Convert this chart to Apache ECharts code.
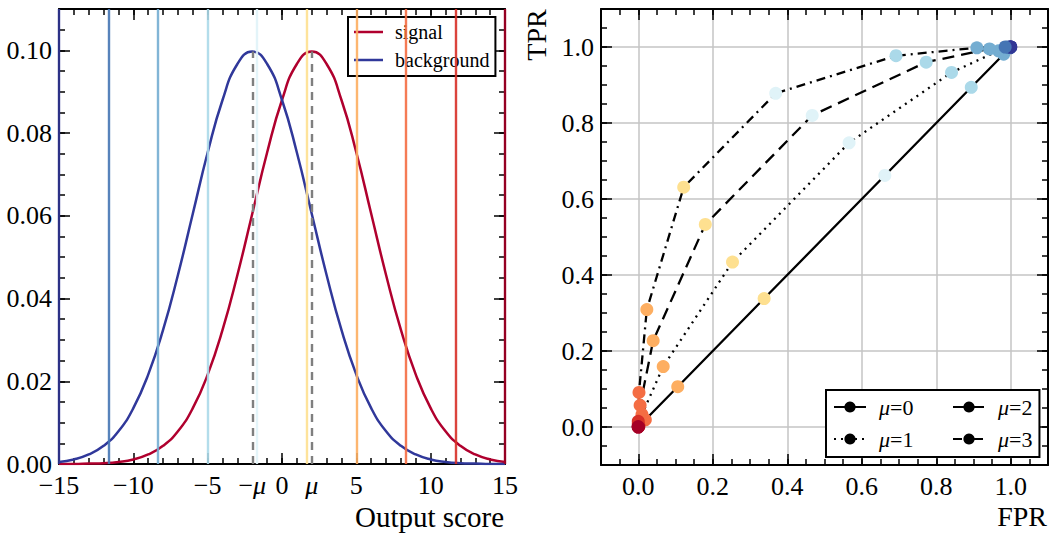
<!DOCTYPE html>
<html>
<head>
<meta charset="utf-8">
<script src="https://cdn.jsdelivr.net/npm/echarts@6.0.0/dist/echarts.min.js"></script>
<style>
  html, body { margin: 0; padding: 0; background: #fff; }
  #chart { width: 1058px; height: 536px; }
</style>
</head>
<body>
<div id="chart"></div>
<script>
// data

// left panel: output score distributions
var scoreX = [-15, -14, -13, -12, -11, -10, -9, -8, -7, -6, -5, -4, -3, -2, -1, 0,
              1, 2, 3, 4, 5, 6, 7, 8, 9, 10, 11, 12, 13, 14, 15];
var signalPdf = [0.0000, 0.0000, 0.0001, 0.0002, 0.0005, 0.0011, 0.0023, 0.0044, 0.0079, 0.0135,
                 0.0216, 0.0324, 0.0457, 0.0605, 0.0753, 0.0880, 0.0967, 0.0997, 0.0967, 0.0880,
                 0.0753, 0.0605, 0.0457, 0.0324, 0.0216, 0.0135, 0.0079, 0.0044, 0.0023, 0.0011, 0.0005];
var backgroundPdf = [0.0005, 0.0011, 0.0023, 0.0044, 0.0079, 0.0135, 0.0216, 0.0324, 0.0457, 0.0605,
                     0.0753, 0.0880, 0.0967, 0.0997, 0.0967, 0.0880, 0.0753, 0.0605, 0.0457, 0.0324,
                     0.0216, 0.0135, 0.0079, 0.0044, 0.0023, 0.0011, 0.0005, 0.0002, 0.0001, 0.0000, 0.0000];

// cut values and their colours
var thresholds = [-15, -11.67, -8.33, -5, -1.67, 1.67, 5, 8.33, 11.67, 15];
var thresholdColors = ['#313695', '#4575b4', '#74add1', '#abd9e9', '#e0f3f8',
                       '#fee090', '#fdae61', '#f46d43', '#d73027', '#a50026'];

// dashed markers at -mu and mu
var muMarks = [-2, 2];
var muPeaks = [0.0997, 0.0997];

// tick labels
var scoreTicks = [-15, -10, -5, -2, 0, 2, 5, 10, 15];
var pdfTicks = [0, 0.02, 0.04, 0.06, 0.08, 0.10];
var rocTicks = [0, 0.2, 0.4, 0.6, 0.8, 1.0];

// right panel: ROC points, one per cut value
var rocNames = ['μ=0', 'μ=1', 'μ=2', 'μ=3'];
var fprMu0 = [1.000, 0.998, 0.981, 0.894, 0.662, 0.338, 0.106, 0.019, 0.002, 0.000];
var tprMu0 = [1.000, 0.998, 0.981, 0.894, 0.662, 0.338, 0.106, 0.019, 0.002, 0.000];
var fprMu1 = [1.000, 0.996, 0.967, 0.841, 0.566, 0.253, 0.067, 0.010, 0.001, 0.000];
var tprMu1 = [1.000, 0.999, 0.990, 0.933, 0.748, 0.434, 0.159, 0.033, 0.004, 0.000];
var fprMu2 = [0.999, 0.992, 0.943, 0.773, 0.467, 0.180, 0.040, 0.005, 0.000, 0.000];
var tprMu2 = [1.000, 1.000, 0.995, 0.960, 0.820, 0.533, 0.227, 0.057, 0.008, 0.001];
var fprMu3 = [0.999, 0.985, 0.909, 0.692, 0.369, 0.122, 0.023, 0.002, 0.000, 0.000];
var tprMu3 = [1.000, 1.000, 0.998, 0.977, 0.878, 0.631, 0.309, 0.091, 0.015, 0.001];

var rocFpr = [fprMu0, fprMu1, fprMu2, fprMu3];
var rocTpr = [tprMu0, tprMu1, tprMu2, tprMu3];
var rocDash = ['solid', [2, 5], [12, 7], [9, 5, 2, 5]];

var FONT = '"Liberation Serif", "DejaVu Serif", serif';
var TICK_SIZE = 26;

function scoreLabel(v) {
    if (v === -2) return '{n|−}{i|μ}';
    if (v === 2) return '{i|μ}';
    return '{n|' + (v < 0 ? '−' + Math.abs(v) : String(v)) + '}';
}

var labelRich = {
    n: { fontFamily: FONT, fontSize: TICK_SIZE, color: '#000' },
    i: { fontStyle: 'italic', fontFamily: FONT, fontSize: TICK_SIZE, color: '#000' }
};

// builds the 4 axes of one side pair: main + minor ticks, low side + high side
function axisSet(grid, dim, min, max, minorStep, major) {
    var low = dim === 'x' ? 'bottom' : 'left';
    var high = dim === 'x' ? 'top' : 'right';
    var out = [];
    [low, high].forEach(function (pos) {
        out.push({
            type: 'value', gridIndex: grid, position: pos, min: min, max: max,
            interval: major.interval,
            axisLine: { show: true, onZero: false, lineStyle: { color: '#000', width: 2 } },
            axisTick: { show: true, inside: true, length: 11, customValues: major.tickValues,
                        lineStyle: { color: '#000', width: 1.5 } },
            axisLabel: { show: pos === low, customValues: major.labelValues, formatter: major.formatter,
                         color: '#000', fontFamily: FONT, fontSize: TICK_SIZE,
                         margin: dim === 'x' ? 8 : 7, rich: labelRich },
            splitLine: { show: !!major.split && pos === low, lineStyle: { color: '#c4c4c4', width: 1.5 } },
            minorTick: { show: false }
        });
        out.push({
            type: 'value', gridIndex: grid, position: pos, min: min, max: max,
            interval: minorStep,
            axisLine: { show: false, onZero: false },
            axisTick: { show: true, inside: true, length: 6, lineStyle: { color: '#000', width: 1.5 } },
            axisLabel: { show: false },
            splitLine: { show: false }
        });
    });
    return out;
}

var xAxes = axisSet(0, 'x', -15, 15, 1, {
    interval: 5, labelValues: scoreTicks, formatter: scoreLabel
}).concat(axisSet(1, 'x', -0.1, 1.1, 0.05, {
    tickValues: rocTicks, labelValues: rocTicks, split: true,
    formatter: function (v) { return '{n|' + v.toFixed(1) + '}'; }
}));

var yAxes = axisSet(0, 'y', 0, 0.11, 0.005, {
    tickValues: pdfTicks, labelValues: pdfTicks,
    formatter: function (v) { return '{n|' + v.toFixed(2) + '}'; }
}).concat(axisSet(1, 'y', -0.1, 1.1, 0.05, {
    tickValues: rocTicks, labelValues: rocTicks, split: true,
    formatter: function (v) { return '{n|' + v.toFixed(1) + '}'; }
}));

var series = [];

// vertical cut lines
series.push({
    type: 'line', xAxisIndex: 0, yAxisIndex: 0, data: [], z: 1, silent: true,
    markLine: {
        silent: true, symbol: ['none', 'none'], label: { show: false }, animation: false,
        data: thresholds.map(function (t, i) {
            return { xAxis: t, lineStyle: { color: thresholdColors[i], width: 2.4, type: 'solid', opacity: 0.9 } };
        })
    }
});

series.push({
    name: 'signal', type: 'line', xAxisIndex: 0, yAxisIndex: 0, z: 3,
    data: scoreX.map(function (x, i) { return [x, signalPdf[i]]; }),
    symbol: 'none', smooth: true,
    lineStyle: { color: '#b0002e', width: 2.5 }, itemStyle: { color: '#b0002e' }
});
series.push({
    name: 'background', type: 'line', xAxisIndex: 0, yAxisIndex: 0, z: 3,
    data: scoreX.map(function (x, i) { return [x, backgroundPdf[i]]; }),
    symbol: 'none', smooth: true,
    lineStyle: { color: '#30389a', width: 2.5 }, itemStyle: { color: '#30389a' }
});

// dashed -mu / mu markers
series.push({
    type: 'line', xAxisIndex: 0, yAxisIndex: 0, data: [], z: 4, silent: true,
    markLine: {
        silent: true, symbol: ['none', 'none'], label: { show: false }, animation: false,
        lineStyle: { color: '#7f7f7f', width: 2.4, type: [8, 6] },
        data: muMarks.map(function (m, i) {
            return [{ coord: [m, 0] }, { coord: [m, muPeaks[i]] }];
        })
    }
});

// ROC curves
rocNames.forEach(function (name, k) {
    series.push({
        name: name, type: 'line', xAxisIndex: 4, yAxisIndex: 4, z: 3,
        data: rocFpr[k].map(function (f, i) {
            return { value: [f, rocTpr[k][i]], itemStyle: { color: thresholdColors[i] } };
        }),
        symbol: 'circle', symbolSize: 13, showSymbol: true,
        lineStyle: { color: '#000', width: 2.3, type: rocDash[k] },
        itemStyle: { color: '#000', borderWidth: 0 }
    });
});

var legendText = {
    fontFamily: FONT, fontSize: 22, color: '#000', lineHeight: 20, padding: [0, 0, 0, 8],
    rich: {
        n: { fontFamily: FONT, fontSize: 22, color: '#000' },
        i: { fontStyle: 'italic', fontFamily: FONT, fontSize: 22, color: '#000' }
    }
};
function muName(name) { return '{i|μ}{n|' + name.slice(1) + '}'; }

var option = {
    animation: false,
    backgroundColor: '#fff',
    textStyle: { fontFamily: FONT, color: '#000' },
    grid: [
        { left: 59, right: 553, top: 9, bottom: 72 },
        { left: 601, right: 10, top: 9, bottom: 71 }
    ],
    xAxis: xAxes,
    yAxis: yAxes,
    legend: [
        {
            data: [
                { name: 'signal', icon: 'rect' },
                { name: 'background', icon: 'rect' }
            ],
            left: 348, top: 17, orient: 'vertical',
            itemWidth: 29, itemHeight: 2.5, itemGap: 8, padding: [5, 6, 6, 6],
            backgroundColor: '#fff', borderColor: '#000', borderWidth: 2, borderRadius: 0,
            selectedMode: false,
            textStyle: { fontFamily: FONT, fontSize: 20, color: '#000', lineHeight: 20, padding: [0, 0, 0, 7] }
        },
        {
            data: ['μ=0', 'μ=1'], left: 826, top: 390, orient: 'vertical',
            itemWidth: 32, itemHeight: 14, itemGap: 10, padding: [6, 126, 7, 7],
            backgroundColor: '#fff', borderColor: '#000', borderWidth: 2, borderRadius: 0,
            selectedMode: false, formatter: muName, textStyle: legendText
        },
        {
            data: ['μ=2', 'μ=3'], left: 945, top: 390, orient: 'vertical', z: 10,
            itemWidth: 32, itemHeight: 14, itemGap: 10, padding: [6, 7, 7, 7],
            selectedMode: false, formatter: muName, textStyle: legendText
        }
    ],
    graphic: [
        { type: 'text', right: 1058 - 504, top: 502, silent: true,
          style: { text: 'Output score', fontFamily: FONT, fontSize: 29, fill: '#000' } },
        { type: 'text', right: 11, top: 502, silent: true,
          style: { text: 'FPR', fontFamily: FONT, fontSize: 28, fill: '#000' } },
        { type: 'text', x: 536, y: 35, rotation: Math.PI / 2, silent: true,
          style: { text: 'TPR', fontFamily: FONT, fontSize: 28, fill: '#000', align: 'center', verticalAlign: 'middle' } }
    ],
    series: series
};

var chart = echarts.init(document.getElementById('chart'), null, { renderer: 'svg' });
chart.setOption(option);
</script>
</body>
</html>
